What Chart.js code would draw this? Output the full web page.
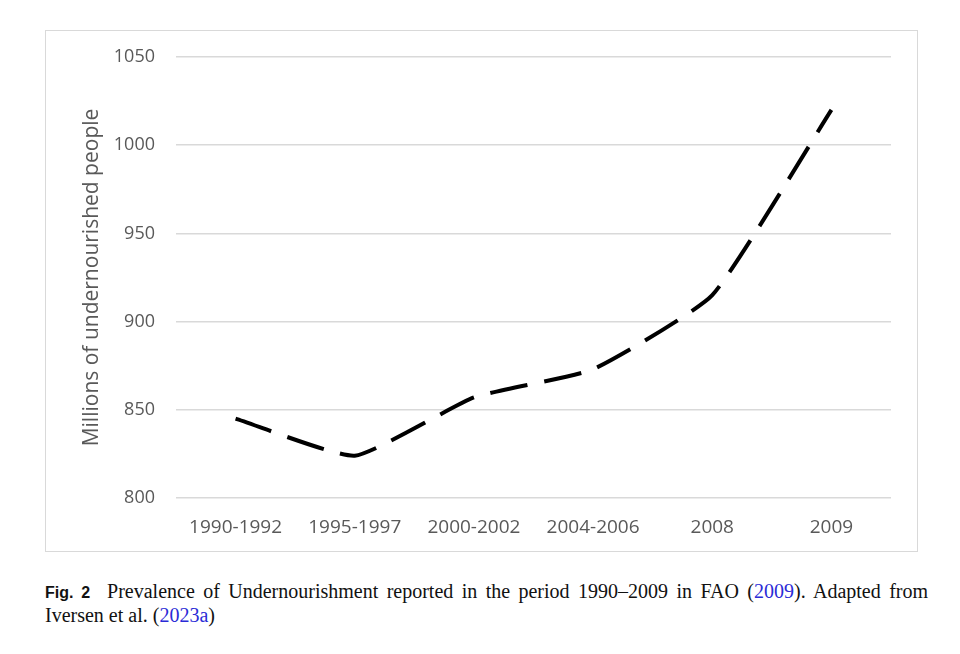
<!DOCTYPE html>
<html>
<head>
<meta charset="utf-8">
<script src="https://cdn.jsdelivr.net/npm/chart.js@4"></script>
<style>
  body { margin: 0; background: #fff; width: 960px; height: 654px; position: relative; }
  .chart-box { position: absolute; left: 45px; top: 30px; width: 873px; height: 522px; border: 1px solid #d9d9d9; box-sizing: border-box; }
  .caption { position: absolute; left: 45px; top: 580px; width: 883px; font-family: "Liberation Serif", "Times New Roman", serif; font-size: 20px; line-height: 23px; color: #111; text-align: justify; text-align-last: left; }
  .caption b { font-family: "Liberation Sans", Arial, sans-serif; font-size: 16px; }
  .caption a { color: #2b2bd6; text-decoration: none; }
</style>
</head>
<body>
<div class="chart-box"><canvas id="hungerChart"></canvas></div>
<div class="caption"><b>Fig. 2</b>&nbsp; Prevalence of Undernourishment reported in the period 1990–2009 in FAO (<a>2009</a>). Adapted from Iversen et al. (<a>2023a</a>)</div>
<script>
// Data
const periods = ["1990-1992", "1995-1997", "2000-2002", "2004-2006", "2008", "2009"];
const undernourished = [845, 824, 857, 873, 915, 1020];
const yTicks = [800, 850, 900, 950, 1000, 1050];

const grey = "#595959";

new Chart(document.getElementById("hungerChart"), {
    type: "line",
    data: {
        labels: periods,
        datasets: [{
            data: undernourished,
            borderColor: "#000",
            borderWidth: 4,
            borderDash: [38, 17],
            tension: 0.15,
            pointRadius: 0,
            fill: false
        }]
    },
    options: {
        responsive: true,
        maintainAspectRatio: false,
        animation: false,
        layout: { padding: { left: 30, right: 26, top: 26, bottom: 11 } },
        plugins: { legend: { display: false }, tooltip: { enabled: false } },
        scales: {
            x: {
                offset: true,
                grid: { display: false },
                border: { display: false },
                ticks: { color: grey, font: { family: "Open Sans", size: 19 }, padding: 10, maxRotation: 0 },
                afterFit: s => { s.height = 42; }
            },
            y: {
                min: yTicks[0],
                max: yTicks[yTicks.length - 1],
                afterBuildTicks: s => { s.ticks = yTicks.map(v => ({ value: v })); },
                grid: { color: "#d9d9d9", lineWidth: 1.5, drawTicks: false },
                border: { display: false },
                ticks: { color: grey, font: { family: "Open Sans", size: 18 }, padding: 21, callback: v => String(v) },
                title: { display: true, text: "Millions of undernourished people", color: grey, font: { family: "Open Sans", size: 21 }, padding: { top: 3, bottom: 0 } },
                afterFit: s => { s.width = 100; s.paddingTop = 0; s.paddingBottom = 0; }
            }
        }
    }
});
</script>
</body>
</html>
